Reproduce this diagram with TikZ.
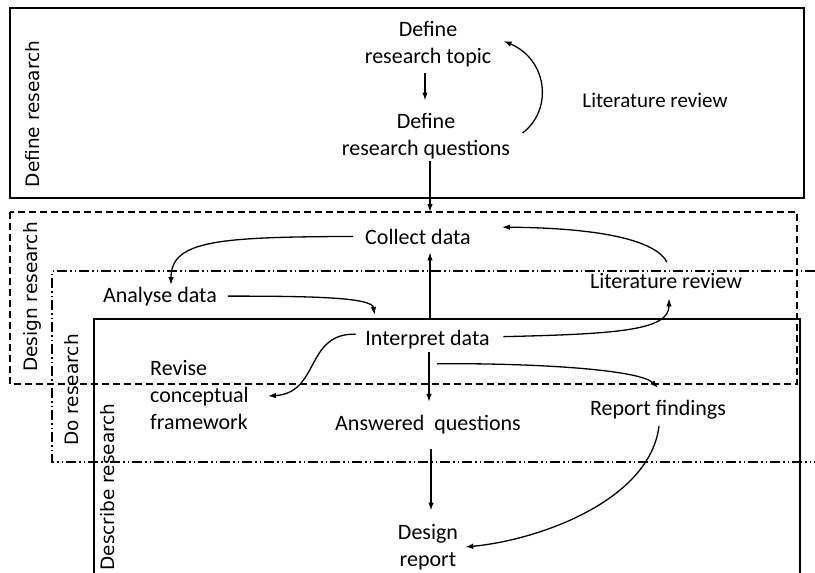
\documentclass[tikz,border=0pt]{standalone}
\usepackage{fontspec}
\newfontfamily\calibrifont{Carlito}
\newfontfamily\sidefont{DejaVu Sans}
\usetikzlibrary{arrows.meta}
\usetikzlibrary{positioning}

\begin{document}
\begin{tikzpicture}[x=1pt, y=-1pt,
	step_txt/.style={font=\calibrifont\fontsize{22}{27}\selectfont, align=center, inner sep=0pt},
	side_txt/.style={font=\sidefont\fontsize{18.5}{20}\selectfont, rotate=90, inner sep=0pt},
	flow/.style={-{Latex[length=8pt,width=5.5pt]}, line width=1.3pt},
	frame_line/.style={line width=1.5pt}]
	
	\useasboundingbox (0,0) rectangle (815,573);
	
	% the four phases
	\draw[frame_line] (10,8) rectangle (804,198);
	\draw[frame_line, dash pattern=on 7pt off 4pt] (10,212) rectangle (797,384);
	\draw[frame_line, dash pattern=on 10pt off 3pt on 1.5pt off 3pt on 1.5pt off 3pt] (815,271) -- (52,271) -- (52,462) -- (815,462);
	\draw[frame_line] (94,573) -- (94,319) -- (800,319) -- (800,573);
	
	\node[side_txt] (define_lbl) at (33,114) {Define research};
	\node[side_txt] (design_lbl) at (32,297) {Design research};
	\node[side_txt] (do_lbl) at (72,390) {Do research};
	\node[side_txt] (describe_lbl) at (108,487) {Describe research};
	
	\node[step_txt] (topic) at (428,44) {Define\\research topic};
	\node[step_txt] (questions) at (426,136) {Define\\research questions};
	\node[step_txt, anchor=base, font=\calibrifont\fontsize{21}{25}\selectfont] (litrev_a) at (655,107) {Literature review};
	\node[step_txt, anchor=base] (collect) at (418,244) {Collect data};
	\node[step_txt, anchor=base] (litrev_b) at (666,288) {Literature review};
	\node[step_txt, anchor=base] (analyse) at (160,302) {Analyse data};
	\node[step_txt, anchor=base] (interpret) at (427.5,345) {Interpret data};
	\node[step_txt, align=left, anchor=west] (revise) at (150,395) {Revise\\conceptual\\framework};
	\node[step_txt, anchor=base] (answered) at (428,430) {Answered\ \ questions};
	\node[step_txt, anchor=base] (findings) at (658,415) {Report findings};
	\node[step_txt] (report) at (428,547) {Design\\report};
	
	\coordinate (design_top) at (430,212);
	
	\path[flow]
	([xshift=-3pt,yshift=-6.4pt]topic.south) edge ([xshift=-1pt,yshift=12.4pt]questions.north)
	([xshift=4pt,yshift=-2.4pt]questions.south) edge (design_top)
	([xshift=2.5pt,yshift=11.6pt]interpret.north) edge ([xshift=12pt,yshift=-8pt]collect.south)
	([xshift=1.5pt,yshift=-3pt]interpret.south) edge ([xshift=1pt,yshift=12.6pt]answered.north)
	([xshift=3pt,yshift=-15pt]answered.south) edge ([xshift=3pt,yshift=13.4pt]report.north);
	
	\draw[flow] ([xshift=12.3pt,yshift=3pt]questions.east) .. controls (553,110) and (548,60) .. ([xshift=12.3pt,yshift=3pt]topic.east);
	\draw[flow] ([xshift=1pt,yshift=10.6pt]litrev_b.north) .. controls (655,240) and (600,228) .. ([xshift=31pt,yshift=9.3pt]collect.east);
	\draw[flow] ([xshift=-12pt]collect.west) .. controls (220,237) and (171,240) .. ([xshift=11pt,yshift=1.5pt]analyse.north);
	\draw[flow] ([xshift=11pt]analyse.east) .. controls (320,296) and (372,298) .. ([xshift=9.5pt,yshift=14.6pt]interpret.north west);
	\draw[flow] ([xshift=13.5pt,yshift=2.5pt]interpret.east) .. controls (620,334) and (669,330) .. ([xshift=3pt,yshift=-10pt]litrev_b.south);
	\draw[flow] ([xshift=-9.5pt,yshift=5pt]interpret.west) .. controls (305,333) and (320,393) .. ([xshift=19pt,yshift=-1pt]revise.east);
	\draw[flow] ([xshift=9.5pt,yshift=-15pt]interpret.south) .. controls (540,363) and (640,370) .. ([yshift=11.6pt]findings.north);
	\draw[flow] ([xshift=1pt,yshift=-7pt]findings.south) .. controls (650,500) and (540,540) .. ([xshift=7pt]report.east);
	
\end{tikzpicture}
\end{document}
